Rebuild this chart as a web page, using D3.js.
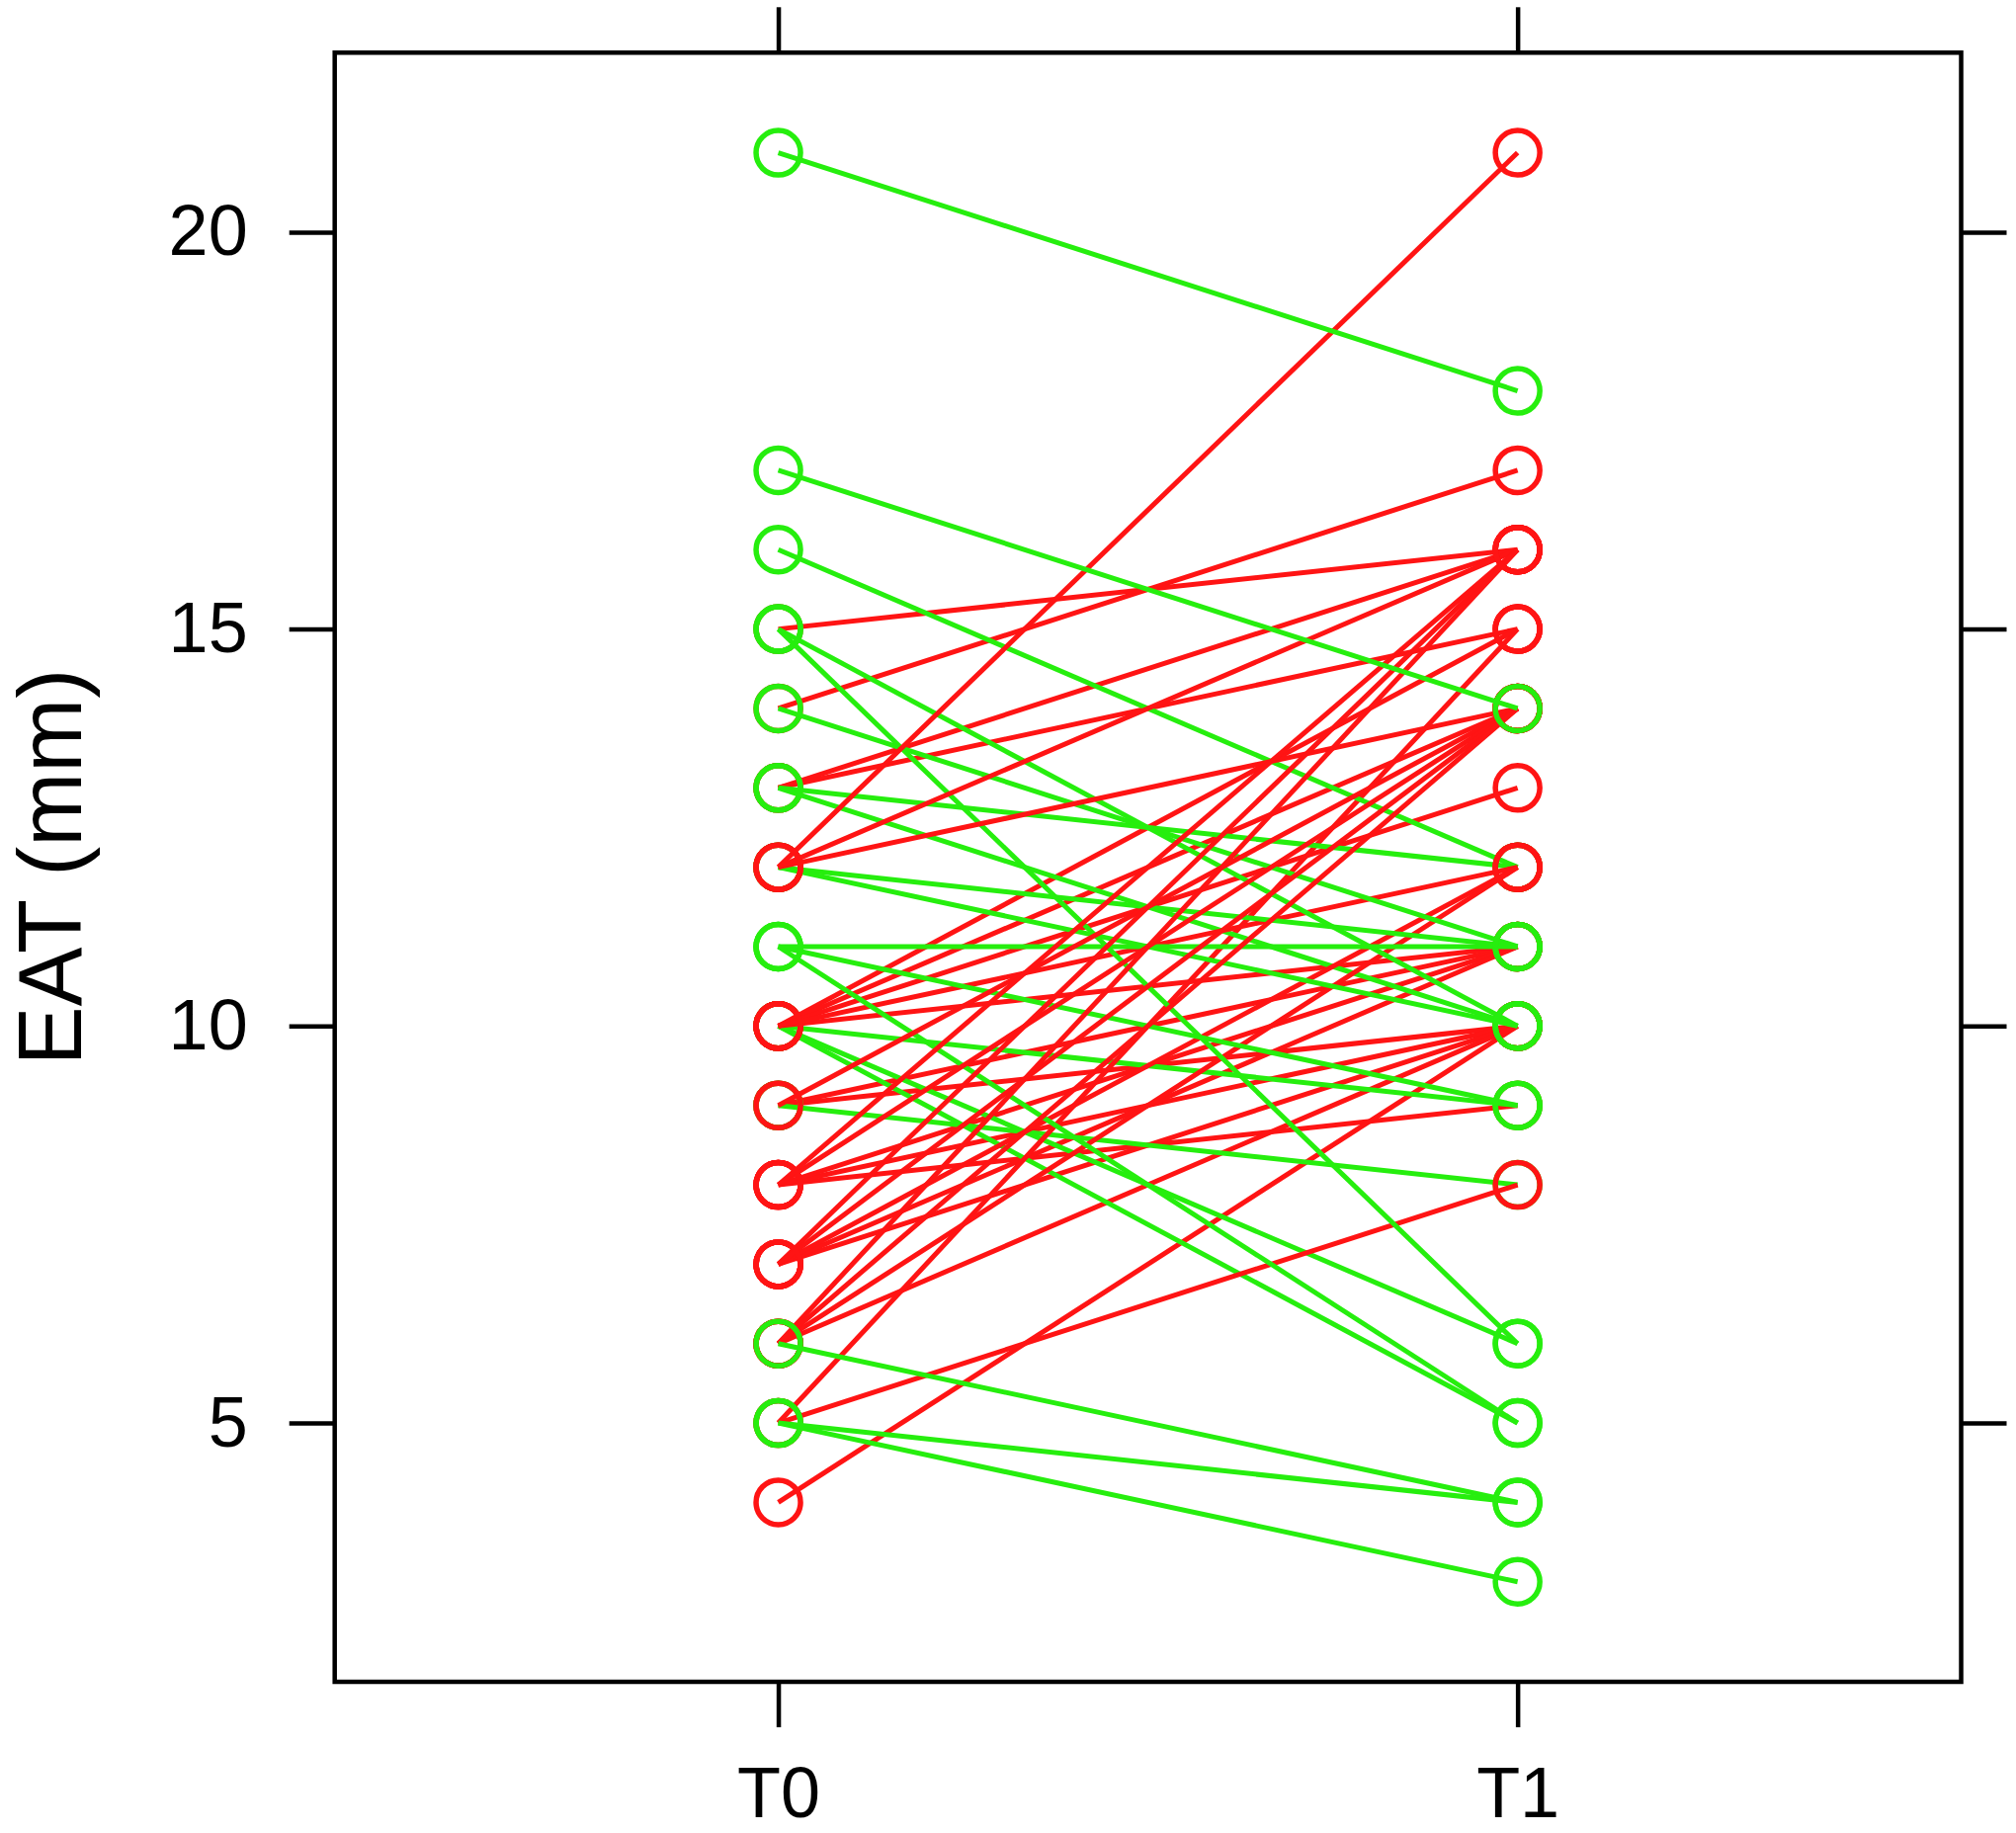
<!DOCTYPE html>
<html>
<head>
<meta charset="utf-8">
<script src="https://cdn.jsdelivr.net/npm/d3@7/dist/d3.min.js"></script>
<style>
  html, body { margin: 0; padding: 0; background: #ffffff; }
  svg { display: block; }
</style>
</head>
<body>
<svg id="chart" width="2040" height="1855"></svg>
<script>
// ---- data ----
const categories = ["T0", "T1"];
// one entry per subject, in drawing order
const eatT0 = [8, 4, 9, 8, 7, 6, 9, 8, 7, 13, 13, 14, 15, 10, 10, 10, 9, 5, 5, 10, 10, 10, 10, 13, 13, 16, 10, 7, 6, 12, 12, 14, 11, 11, 11, 15, 15, 12, 12, 12, 9, 8, 8, 7, 7, 6, 6, 17, 21, 6, 5, 5];
const eatT1 = [9, 10, 10, 10, 10, 10, 11, 11, 11, 16, 15, 17, 16, 9, 6, 5, 8, 8, 15, 11, 15, 14, 13, 12, 10, 12, 12, 12, 12, 11, 10, 11, 11, 9, 5, 10, 6, 21, 16, 14, 14, 14, 16, 16, 14, 16, 14, 14, 18, 4, 4, 3];
const yTicks = [5, 10, 15, 20];
const yLabel = "EAT (mm)";

(function () {
  // ---- layout ----
  const pLeft = 338.7, pRight = 1984.5, pTop = 53.3, pBottom = 1702;
  const tickLen = 46;
  const upColor = "#ff1414", downColor = "#26ee0e";
  const font = "'Liberation Sans', Arial, Helvetica, sans-serif";

  const svg = d3.select("#chart");

  const x = d3.scaleLinear().domain([0.4, 2.6]).range([pLeft, pRight]);
  const y = d3.scaleLinear().domain([1.74, 22.26]).range([pBottom, pTop]);

  const yAxisL = d3.axisLeft(y).tickValues(yTicks).tickSize(tickLen).tickPadding(42).tickFormat(d3.format("d"));
  const yAxisR = d3.axisRight(y).tickValues(yTicks).tickSize(tickLen).tickFormat("");
  const xAxisB = d3.axisBottom(x).tickValues([1, 2]).tickSize(tickLen).tickPadding(40).tickFormat(d => categories[d - 1]);
  const xAxisT = d3.axisTop(x).tickValues([1, 2]).tickSize(tickLen).tickFormat("");

  function styleAxis(g) {
    g.select(".domain").remove();
    g.selectAll(".tick line").attr("stroke", "#000").attr("stroke-width", 4.5);
    g.selectAll(".tick text").attr("fill", "#000").style("font-family", font).style("font-size", "72px");
  }

  svg.append("g").attr("transform", `translate(${pLeft},0)`).call(yAxisL).call(styleAxis);
  svg.append("g").attr("transform", `translate(${pRight},0)`).call(yAxisR).call(styleAxis);
  svg.append("g").attr("transform", `translate(0,${pBottom})`).call(xAxisB).call(styleAxis);
  svg.append("g").attr("transform", `translate(0,${pTop})`).call(xAxisT).call(styleAxis);

  svg.append("text")
    .attr("transform", `translate(82,${(pTop + pBottom) / 2}) rotate(-90)`)
    .attr("text-anchor", "middle")
    .style("font-family", font)
    .style("font-size", "90px")
    .attr("fill", "#000")
    .text(yLabel);

  const subjects = eatT0.map((v, i) => ({ a: v, b: eatT1[i] }));
  const plot = svg.append("g");
  subjects.forEach(s => {
    const col = s.b > s.a ? upColor : downColor;
    const g = plot.append("g");
    g.append("line")
      .attr("x1", x(1)).attr("y1", y(s.a))
      .attr("x2", x(2)).attr("y2", y(s.b))
      .attr("stroke", col).attr("stroke-width", 5);
    [[1, s.a], [2, s.b]].forEach(p => {
      g.append("circle")
        .attr("cx", x(p[0])).attr("cy", y(p[1]))
        .attr("r", 22.5)
        .attr("fill", "none")
        .attr("stroke", col).attr("stroke-width", 5.5);
    });
  });

  svg.append("rect")
    .attr("x", pLeft).attr("y", pTop)
    .attr("width", pRight - pLeft).attr("height", pBottom - pTop)
    .attr("fill", "none").attr("stroke", "#000").attr("stroke-width", 4.5);
})();
</script>
</body>
</html>
